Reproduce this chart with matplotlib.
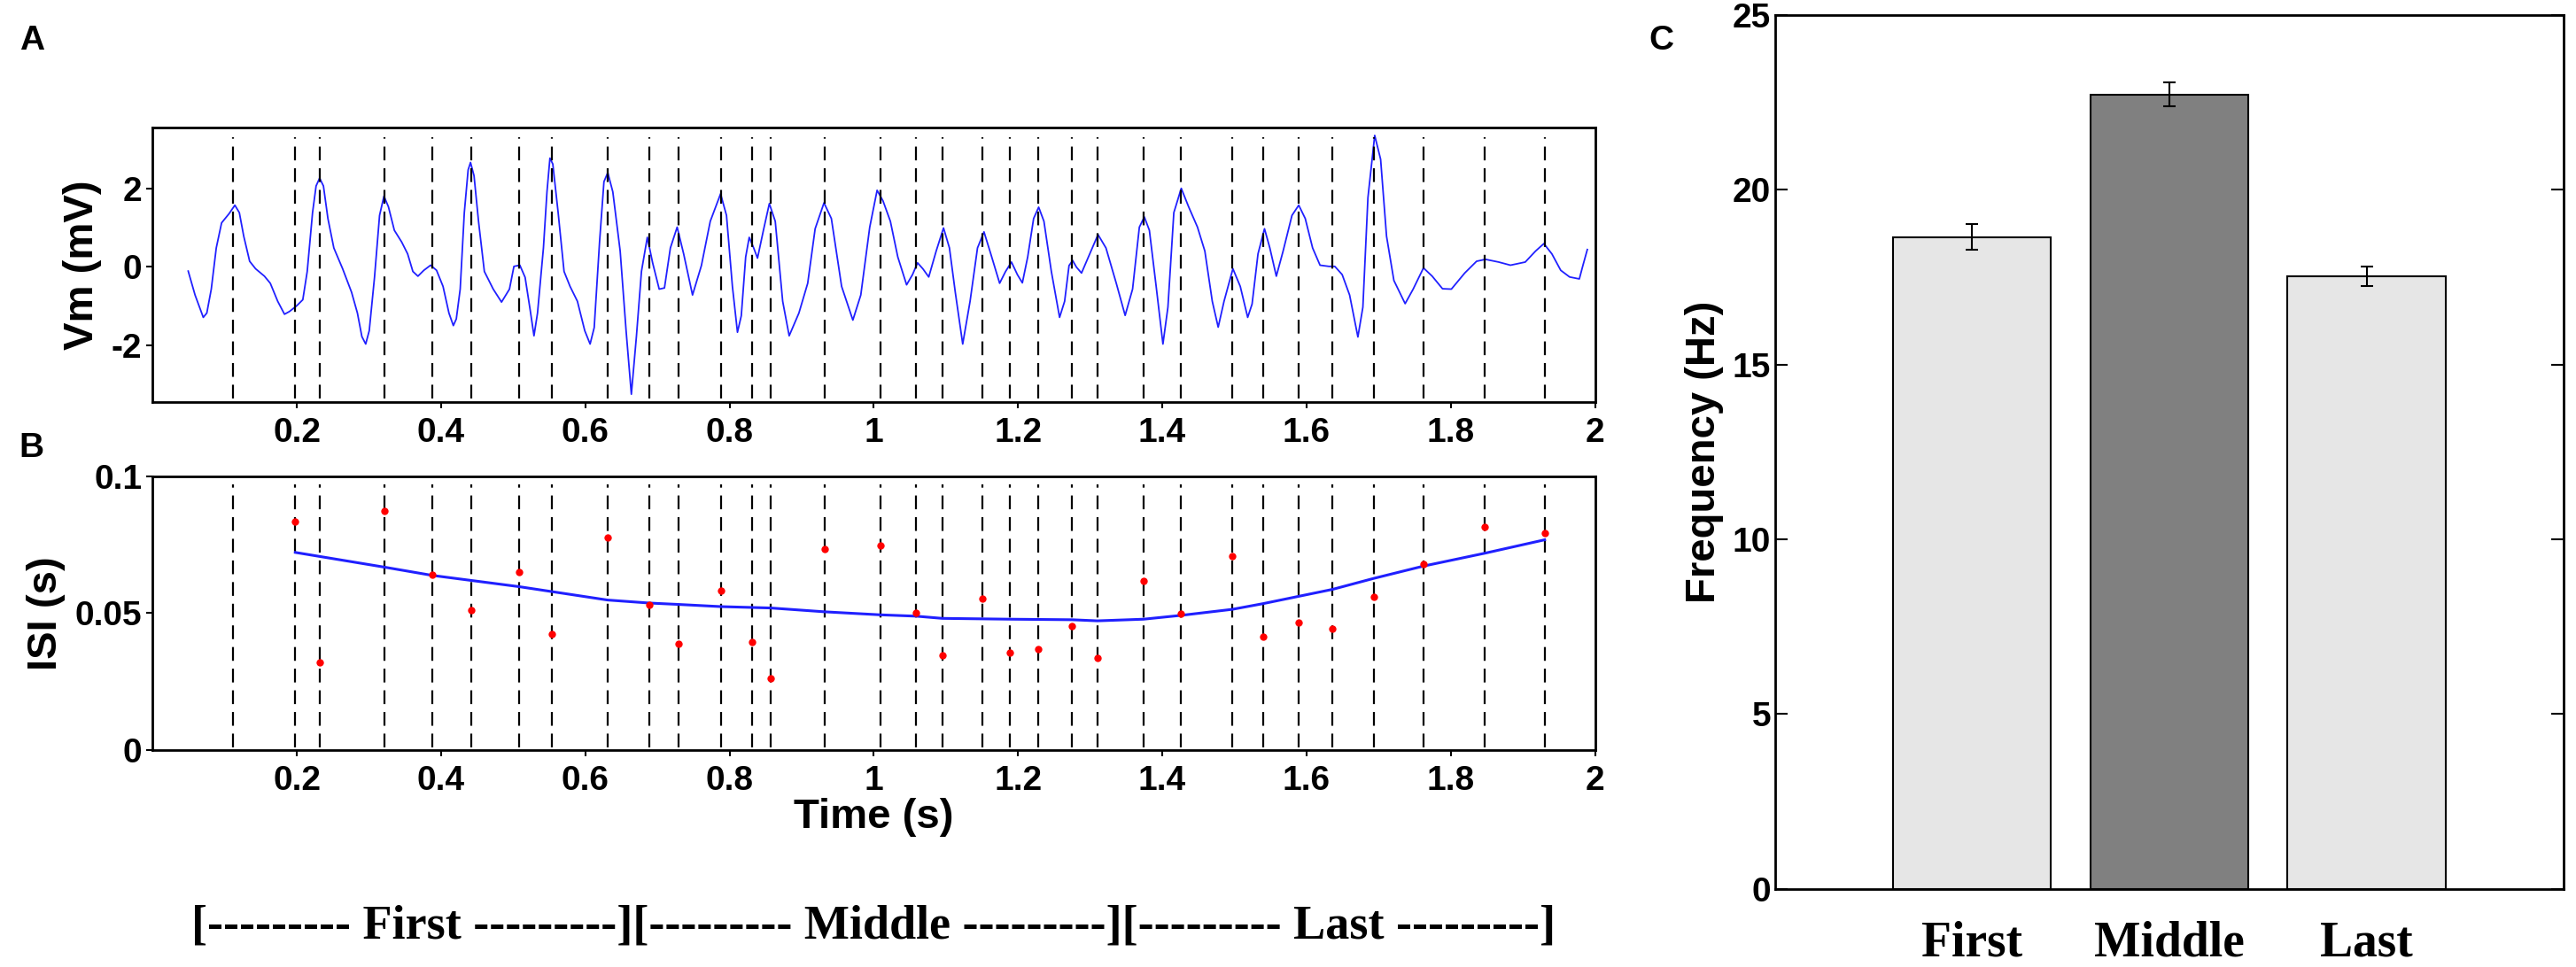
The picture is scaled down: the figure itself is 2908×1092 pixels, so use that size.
import matplotlib
matplotlib.use("Agg")
import matplotlib.pyplot as plt

plt.rcParams["axes.unicode_minus"] = False

# spike times (s), shown as dashed lines in A and B
spike_t = [0.111, 0.198, 0.232, 0.322, 0.388, 0.442, 0.508, 0.554, 0.631, 0.689,
           0.729, 0.788, 0.831, 0.857, 0.932, 1.009, 1.059, 1.095, 1.151, 1.189,
           1.228, 1.275, 1.310, 1.374, 1.426, 1.497, 1.540, 1.589, 1.636, 1.693,
           1.762, 1.847, 1.930]

# membrane potential trace
vm_t = [0.0495, 0.059, 0.0704, 0.0753, 0.0815, 0.0884, 0.0958, 0.106, 0.1142, 0.1204,
        0.1265, 0.1347, 0.1429, 0.1552, 0.1633, 0.1736, 0.183, 0.1899, 0.2002, 0.2084,
        0.2145, 0.2219, 0.2268, 0.2317, 0.237, 0.2432, 0.2514, 0.2636, 0.276, 0.2841,
        0.2903, 0.2956, 0.3005, 0.3078, 0.3148, 0.3209, 0.3271, 0.3353, 0.3455, 0.3537,
        0.361, 0.368, 0.3762, 0.3856, 0.3938, 0.4028, 0.411, 0.4171, 0.4212, 0.4266,
        0.4323, 0.4376, 0.4409, 0.4458, 0.452, 0.4601, 0.4724, 0.4839, 0.4949, 0.5011,
        0.5093, 0.5166, 0.5236, 0.5289, 0.5338, 0.542, 0.5469, 0.551, 0.555, 0.5624,
        0.5706, 0.5789, 0.5891, 0.5993, 0.6067, 0.6124, 0.6198, 0.6259, 0.6312, 0.6382,
        0.6484, 0.6566, 0.6639, 0.6709, 0.6779, 0.686, 0.6934, 0.7025, 0.7098, 0.718,
        0.7274, 0.7364, 0.7487, 0.761, 0.7733, 0.7876, 0.7958, 0.804, 0.811, 0.8163,
        0.8224, 0.8273, 0.8335, 0.8388, 0.847, 0.8552, 0.8634, 0.8737, 0.8827, 0.8962,
        0.9084, 0.9187, 0.931, 0.9412, 0.9554, 0.971, 0.982, 0.9944, 1.0046, 1.0128,
        1.023, 1.0333, 1.0455, 1.0537, 1.0607, 1.068, 1.0762, 1.0865, 1.0967, 1.1049,
        1.113, 1.1233, 1.1335, 1.1438, 1.1528, 1.1622, 1.1745, 1.1827, 1.1909, 1.1991,
        1.206, 1.2134, 1.2216, 1.2286, 1.2359, 1.2462, 1.2576, 1.2646, 1.2707, 1.2757,
        1.281, 1.288, 1.2994, 1.3109, 1.3219, 1.3362, 1.3485, 1.3588, 1.3682, 1.3751,
        1.3821, 1.3915, 1.4009, 1.4078, 1.416, 1.4263, 1.4365, 1.4488, 1.459, 1.4693,
        1.4775, 1.4856, 1.4979, 1.5081, 1.5184, 1.5245, 1.5327, 1.5417, 1.5491, 1.5581,
        1.5675, 1.5798, 1.5892, 1.5982, 1.6084, 1.6187, 1.631, 1.6392, 1.6494, 1.6597,
        1.6712, 1.6781, 1.6851, 1.6945, 1.7027, 1.7109, 1.7211, 1.7367, 1.7478, 1.7621,
        1.7742, 1.7885, 1.8008, 1.8193, 1.8357, 1.848, 1.8664, 1.8827, 1.9032, 1.9175,
        1.929, 1.9401, 1.9524, 1.9647, 1.9782, 1.9831, 1.9893]
vm_v = [-0.11, -0.72, -1.29, -1.18, -0.57, 0.48, 1.12, 1.35, 1.57, 1.38,
        0.78, 0.14, -0.05, -0.24, -0.42, -0.88, -1.21, -1.14, -0.99, -0.84,
        -0.12, 1.38, 2.06, 2.26, 2.06, 1.23, 0.48, -0.05, -0.65, -1.18,
        -1.78, -1.97, -1.63, -0.27, 1.31, 1.80, 1.53, 0.93, 0.63, 0.33,
        -0.12, -0.24, -0.09, 0.04, -0.09, -0.50, -1.18, -1.50, -1.33, -0.57,
        1.38, 2.47, 2.66, 2.32, 1.16, -0.12, -0.57, -0.90, -0.57, 0.01,
        0.04, -0.27, -1.10, -1.76, -1.18, 0.48, 1.91, 2.77, 2.62, 1.38,
        -0.12, -0.50, -0.88, -1.63, -1.97, -1.55, 0.63, 2.17, 2.40, 1.91,
        0.40, -1.63, -3.25, -1.78, -0.12, 0.75, 0.10, -0.57, -0.54, 0.48,
        1.01, 0.33, -0.72, 0.03, 1.16, 1.86, 1.31, -0.50, -1.67, -1.25,
        0.25, 0.75, 0.48, 0.22, 0.93, 1.61, 1.16, -0.88, -1.76, -1.18,
        -0.42, 0.97, 1.63, 1.23, -0.50, -1.36, -0.72, 1.01, 1.95, 1.68,
        1.16, 0.25, -0.46, -0.20, 0.10, -0.05, -0.26, 0.40, 0.99, 0.48,
        -0.65, -1.97, -0.88, 0.48, 0.89, 0.33, -0.42, -0.12, 0.12, -0.20,
        -0.41, 0.25, 1.23, 1.52, 1.16, -0.12, -1.29, -0.88, 0.03, 0.16,
        -0.01, -0.16, 0.33, 0.82, 0.48, -0.42, -1.24, -0.57, 1.01, 1.27,
        0.93, -0.50, -1.97, -1.03, 1.38, 2.00, 1.53, 1.01, 0.40, -0.88,
        -1.54, -0.88, -0.05, -0.50, -1.29, -0.95, 0.33, 0.97, 0.48, -0.24,
        0.40, 1.31, 1.57, 1.23, 0.48, 0.04, 0.01, 0.01, -0.20, -0.72,
        -1.79, -1.03, 1.76, 3.35, 2.74, 0.78, -0.35, -0.94, -0.57, -0.03,
        -0.24, -0.56, -0.57, -0.16, 0.14, 0.19, 0.12, 0.04, 0.12, 0.40,
        0.59, 0.33, -0.09, -0.26, -0.31, 0.03, 0.44]

# inter-spike intervals (s), one per spike from the second on
isi_v = [0.0836, 0.0319, 0.0874, 0.0640, 0.0510, 0.0649, 0.0425, 0.0776, 0.0532,
         0.0389, 0.0581, 0.0395, 0.0262, 0.0735, 0.0746, 0.0501, 0.0346, 0.0554,
         0.0357, 0.0368, 0.0452, 0.0335, 0.0618, 0.0497, 0.0708, 0.0415, 0.0465,
         0.0442, 0.0560, 0.0678, 0.0815, 0.0794]

# smoothed ISI trend
trend_t = [0.198, 0.322, 0.388, 0.508, 0.631, 0.689, 0.729, 0.788, 0.857, 0.932,
           1.009, 1.059, 1.095, 1.189, 1.275, 1.310, 1.374, 1.426, 1.497, 1.540,
           1.636, 1.693, 1.762, 1.847, 1.930]
trend_v = [0.0722, 0.0668, 0.0638, 0.0597, 0.0548, 0.0537, 0.0532, 0.0524, 0.0519,
           0.0505, 0.0494, 0.0489, 0.0481, 0.0478, 0.0476, 0.0472, 0.0478, 0.0492,
           0.0514, 0.0535, 0.0587, 0.0627, 0.0672, 0.0719, 0.0768]

# panel C
segments = ["First", "Middle", "Last"]
freq = [18.65, 22.73, 17.52]
freq_err = [0.36, 0.35, 0.28]
bar_colors = ["#e6e6e6", "#808080", "#e6e6e6"]

xticks = [0.2, 0.4, 0.6, 0.8, 1.0, 1.2, 1.4, 1.6, 1.8, 2.0]
xticklabels = ["0.2", "0.4", "0.6", "0.8", "1", "1.2", "1.4", "1.6", "1.8", "2"]

sans = ["Liberation Sans", "DejaVu Sans"]
serif = ["Liberation Serif", "DejaVu Serif"]
tick_fs = 28
label_fs = 34

fig = plt.figure(figsize=(29.08, 10.92), dpi=100)
axA = fig.add_axes([0.0592, 0.5842, 0.5600, 0.2839])
axB = fig.add_axes([0.0592, 0.2244, 0.5600, 0.2830])
axC = fig.add_axes([0.6891, 0.0810, 0.3061, 0.9034])

dash = (0, (7, 4))

# A: Vm trace
axA.plot(vm_t, vm_v, color="#2020ff", lw=1.3)
for t in spike_t:
    axA.axvline(t, ymin=0.014, ymax=0.966, color="black", lw=1.6, ls=dash)
axA.set_xlim(0, 2)
axA.set_ylim(-3.45, 3.55)
axA.set_yticks([-2, 0, 2])
axA.set_ylabel("Vm (mV)", fontsize=label_fs, fontweight="bold", family=sans, labelpad=8)

# B: ISI
for t in spike_t:
    axB.axvline(t, ymin=0.01, ymax=0.97, color="black", lw=1.6, ls=dash)
axB.plot(trend_t, trend_v, color="#2020ff", lw=2.2)
axB.plot(spike_t[1:], isi_v, "o", color="red", ms=6, mec="none")
axB.set_xlim(0, 2)
axB.set_ylim(0, 0.1)
axB.set_yticks([0, 0.05, 0.1])
axB.set_yticklabels(["0", "0.05", "0.1"])
axB.set_ylabel("ISI (s)", fontsize=label_fs, fontweight="bold", family=sans, labelpad=8)
axB.set_xlabel("Time (s)", fontsize=label_fs, fontweight="bold", family=sans, labelpad=1)

for ax in (axA, axB):
    ax.set_xticks(xticks)
    ax.set_xticklabels(xticklabels)
    ax.tick_params(direction="out", length=5, width=1.5, labelsize=tick_fs)
    ax.tick_params(axis="x", pad=7)
    for lab in ax.get_xticklabels() + ax.get_yticklabels():
        lab.set_fontweight("bold")
        lab.set_family(sans)
    for sp in ax.spines.values():
        sp.set_linewidth(2)

# C: bar chart
xpos = [1, 2, 3]
axC.bar(xpos, freq, width=0.8, color=bar_colors, edgecolor="black", lw=1.5)
axC.errorbar(xpos, freq, yerr=freq_err, fmt="none", ecolor="black", elinewidth=1.5,
             capsize=5, capthick=1.5)
axC.set_xlim(0, 4)
axC.set_ylim(0, 25)
axC.set_yticks([0, 5, 10, 15, 20, 25])
axC.set_xticks(xpos)
axC.set_xticklabels(segments, fontsize=40, fontweight="bold", family=serif)
axC.tick_params(axis="x", length=0, pad=26)
axC.tick_params(axis="y", direction="in", length=10, width=1.5, right=True, labelsize=tick_fs)
for lab in axC.get_yticklabels():
    lab.set_fontweight("bold")
    lab.set_family(sans)
axC.set_ylabel("Frequency (Hz)", fontsize=label_fs, fontweight="bold", family=sans, labelpad=7)
for sp in axC.spines.values():
    sp.set_linewidth(2)

# panel letters
fig.text(0.0075, 0.958, "A", fontsize=28, fontweight="bold", family=sans, va="center")
fig.text(0.0075, 0.5365, "B", fontsize=28, fontweight="bold", family=sans, va="center")
fig.text(0.6400, 0.958, "C", fontsize=28, fontweight="bold", family=sans, va="center")

# segment brackets under A/B
dashes = "-" * 9
bracket = (f"[{dashes} First {dashes}][{dashes} Middle {dashes}]"
           f"[{dashes} Last {dashes}]")
fig.text(0.339, 0.042, bracket, fontsize=39, fontweight="bold", family=serif,
         ha="center", va="center")

fig.savefig("out.png", dpi=100)
